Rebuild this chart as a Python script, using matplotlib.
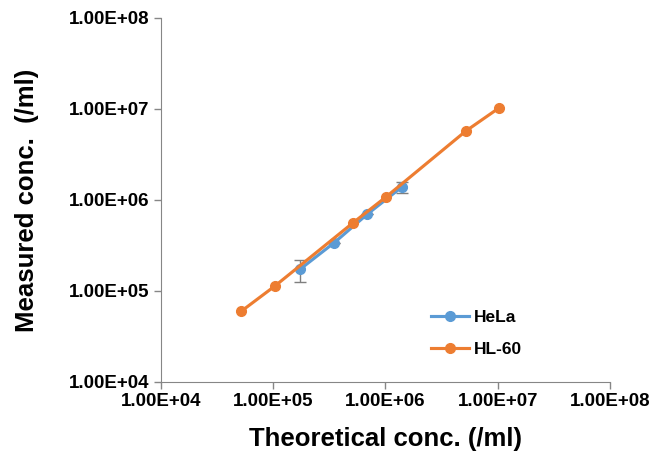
import matplotlib.pyplot as plt
from matplotlib.ticker import FixedLocator, FuncFormatter, NullLocator

plt.rcParams["font.family"] = ["Liberation Sans", "DejaVu Sans"]
plt.rcParams["font.weight"] = "bold"

# HeLa
hela_x = [1.73e5, 3.5e5, 6.9e5, 1.39e6]
hela_y = [1.73e5, 3.4e5, 7.0e5, 1.38e6]
hela_err = [0.48e5, 0.0, 0.0, 0.18e6]

# HL-60
hl60_x = [5.2e4, 1.04e5, 5.16e5, 1.02e6, 5.2e6, 1.03e7]
hl60_y = [6.0e4, 1.14e5, 5.64e5, 1.09e6, 5.73e6, 1.03e7]

ticks = [1e4, 1e5, 1e6, 1e7, 1e8]

blue = "#5B9BD5"
orange = "#ED7D31"
axis_grey = "#868686"

fig = plt.figure(figsize=(6.56, 4.59), dpi=100)
ax = fig.add_axes([0.2454, 0.1678, 0.6845, 0.793])

ax.errorbar(hela_x, hela_y, yerr=hela_err, fmt="none", ecolor="#7f7f7f",
            elinewidth=1, capsize=4, capthick=1, zorder=1)
h_hela, = ax.plot(hela_x, hela_y, color=blue, marker="o", markersize=7,
                  linewidth=2.25, label="HeLa", zorder=2)
h_hl60, = ax.plot(hl60_x, hl60_y, color=orange, marker="o", markersize=7,
                  linewidth=2.25, label="HL-60", zorder=3)

ax.set_xscale("log")
ax.set_yscale("log")
ax.set_xlim(1e4, 1e8)
ax.set_ylim(1e4, 1e8)

fmt = FuncFormatter(lambda v, p: "{:.2E}".format(v))
for a in (ax.xaxis, ax.yaxis):
    a.set_major_locator(FixedLocator(ticks))
    a.set_minor_locator(NullLocator())
    a.set_major_formatter(fmt)

ax.tick_params(axis="both", labelsize=13.5, length=5, width=1, color=axis_grey, direction="out", pad=3)
for lab in ax.get_xticklabels() + ax.get_yticklabels():
    lab.set_fontweight("bold")

ax.spines["top"].set_visible(False)
ax.spines["right"].set_visible(False)
ax.spines["left"].set_color(axis_grey)
ax.spines["bottom"].set_color(axis_grey)

ax.set_xlabel("Theoretical conc. (/ml)", fontsize=18.5, fontweight="bold", labelpad=12)
ax.set_ylabel("Measured conc.  (/ml)", fontsize=18.5, fontweight="bold", labelpad=22)

ax.legend(handles=[h_hela, h_hl60], loc="upper left",
          bbox_to_anchor=(415 / 656, 1 - 294 / 459),
          bbox_transform=fig.transFigure, frameon=False,
          prop={"size": 12.5, "weight": "bold"}, handlelength=2.2,
          labelspacing=1.0, handletextpad=0.3)

fig.savefig("out.png", dpi=100)
